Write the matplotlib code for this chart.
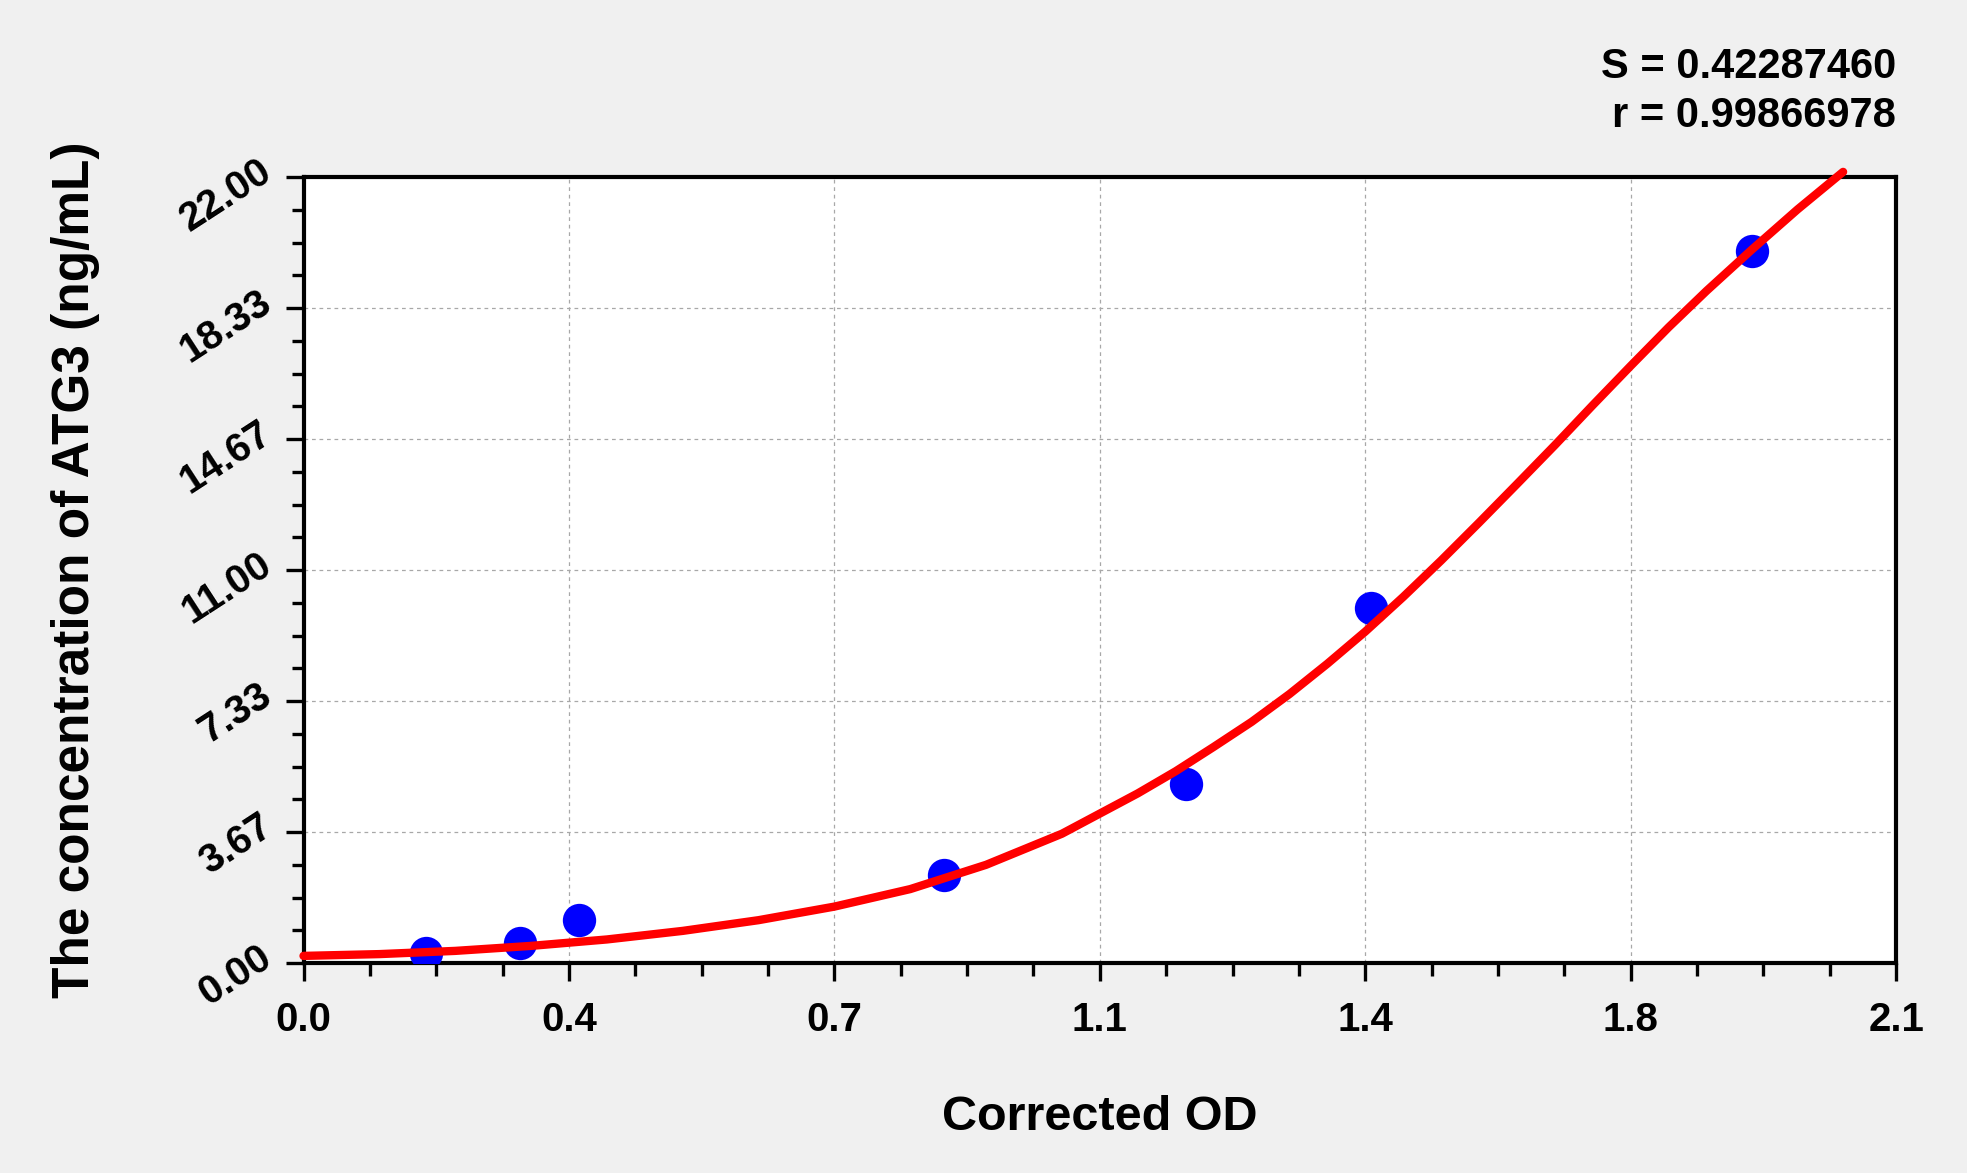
import numpy as np
import matplotlib
matplotlib.use('Agg')
from matplotlib import pyplot as plt, ticker
from matplotlib import font_manager as fm

# standard points (corrected OD vs. concentration)
od_points   = [0.162, 0.285, 0.363, 0.845, 1.163, 1.408, 1.910]
conc_points = [0.28, 0.57, 1.20, 2.46, 5.02, 9.93, 19.94]

# fitted curve
curve_od   = [0.00, 0.10, 0.20, 0.30, 0.40, 0.50, 0.60, 0.70, 0.80, 0.90, 1.00,
              1.10, 1.15, 1.20, 1.25, 1.30, 1.35, 1.40, 1.45, 1.50, 1.55, 1.60,
              1.65, 1.70, 1.75, 1.80, 1.85, 1.91, 1.97, 2.03]
curve_conc = [0.20, 0.25, 0.34, 0.48, 0.66, 0.90, 1.20, 1.58, 2.07, 2.75, 3.62,
              4.75, 5.37, 6.05, 6.75, 7.53, 8.38, 9.28, 10.25, 11.27, 12.33, 13.41,
              14.50, 15.62, 16.72, 17.80, 18.82, 19.98, 21.10, 22.15]

x_ticks  = [0.0, 0.35, 0.70, 1.05, 1.40, 1.75, 2.10]
x_labels = ['0.0', '0.4', '0.7', '1.1', '1.4', '1.8', '2.1']
y_ticks  = [0.0, 11/3, 22/3, 11.0, 44/3, 55/3, 22.0]
y_labels = ['0.00', '3.67', '7.33', '11.00', '14.67', '18.33', '22.00']

fit_s = '0.42287460'
fit_r = '0.99866978'

names = {f.name for f in fm.fontManager.ttflist}
narrow = 'Liberation Sans Narrow' if 'Liberation Sans Narrow' in names else 'Liberation Sans'

bg = '#f0f0f0'
fig = plt.figure(figsize=(19.67, 11.73), dpi=100, facecolor=bg)
ax = fig.add_axes([0.1543, 0.179, 0.964 - 0.1543, 0.8489 - 0.179])
ax.set_facecolor('white')

ax.plot(curve_od, curve_conc, color='#ff0000', lw=6, zorder=4, clip_on=False,
        solid_capstyle='round', solid_joinstyle='round')
ax.plot(od_points, conc_points, 'o', color='#0000ff', ms=24, mew=0, zorder=3)

ax.set_xlim(0, 2.1)
ax.set_ylim(0, 22)

ax.xaxis.set_major_locator(ticker.FixedLocator(x_ticks))
ax.yaxis.set_major_locator(ticker.FixedLocator(y_ticks))
ax.xaxis.set_minor_locator(ticker.AutoMinorLocator(4))
ax.yaxis.set_minor_locator(ticker.AutoMinorLocator(4))
ax.set_xticklabels(x_labels, family=narrow, fontsize=29, fontweight='bold')
ax.set_yticklabels(y_labels, family=narrow, fontsize=29, fontweight='bold',
                   rotation=33, ha='right', va='baseline', rotation_mode='anchor')

ax.tick_params(which='major', direction='out', length=13, width=2.4, color='black')
ax.tick_params(which='minor', direction='out', length=9, width=2.4, color='black')
ax.tick_params(axis='x', which='major', pad=14)
ax.tick_params(axis='y', which='major', pad=8)

for sp in ax.spines.values():
    sp.set_linewidth(3)
    sp.set_color('black')

ax.grid(True, which='major', color='#a8a8a8', lw=0.9, ls=(0, (3, 3)))
ax.set_axisbelow(True)

ax.set_xlabel('Corrected OD', family='Liberation Sans', fontsize=35,
              fontweight='bold', labelpad=41)
ax.set_ylabel('The concentration of ATG3 (ng/mL)', family='Liberation Sans',
              fontsize=37, fontweight='bold', labelpad=53)

fig.text(0.964, 1 - 78/1173, 'S = ' + fit_s, family=narrow, fontsize=30,
         fontweight='bold', ha='right', va='baseline')
fig.text(0.964, 1 - 127/1173, 'r = ' + fit_r, family=narrow, fontsize=30,
         fontweight='bold', ha='right', va='baseline')

fig.savefig('out.png', dpi=100, facecolor=bg)
